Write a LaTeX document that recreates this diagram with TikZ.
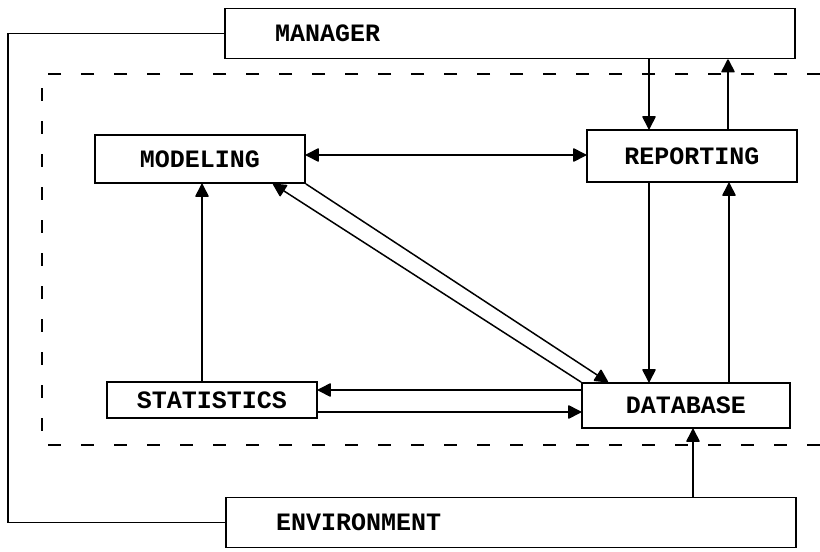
\documentclass[tikz,border=0pt]{standalone}
\usepackage{fontspec}
\newfontfamily\boxfont{Liberation Mono}
\usetikzlibrary{arrows.meta}
\tikzset{
  unit/.style={draw, line width=1.8pt, inner sep=0pt,
    font=\boxfont\bfseries\fontsize{25}{25}\selectfont},
  wide/.style={unit, inner xsep=50pt, text width=470pt, align=left, minimum height=50pt},
  tip/.tip={Triangle[length=14pt,width=14pt,round]},
  flow/.style={line width=1.5pt, -tip},
  both/.style={line width=1.5pt, tip-tip},
  link/.style={line width=1.5pt},
  boundary/.style={line width=1.5pt, dash pattern=on 13pt off 20pt},
}
\begin{document}
\begin{tikzpicture}[x=1pt,y=-1pt]
\useasboundingbox (0,0) rectangle (820,552);

% system boundary (open on the right)
\draw[boundary] (820,74) -- (42,74) -- (42,445) -- (820,445);

% blocks
\node[wide] (man) at (510,33.5) {MANAGER};
\node[wide] (env) at (511,522.5) {ENVIRONMENT};
\node[unit, minimum width=210pt, minimum height=48pt] (mod) at (200,159) {MODELING};
\node[unit, minimum width=210pt, minimum height=52pt] (rep) at (692,156) {REPORTING};
\node[unit, minimum width=210pt, minimum height=36pt] (sta) at (212,400) {STATISTICS};
\node[unit, minimum width=208pt, minimum height=45pt] (dat) at (686,405.5) {DATABASE};

% manager -- environment loop outside the boundary
\draw[link] (man.west) -- ++(-216,0) |- (env.west);

% vertical flows
\draw[flow] (man.south -| 649,0) -- (rep.north -| 649,0);
\draw[flow] (rep.north -| 728,0) -- (man.south -| 728,0);
\draw[flow] (rep.south -| 649,0) -- (dat.north -| 649,0);
\draw[flow] (dat.north -| 729,0) -- (rep.south -| 729,0);
\draw[flow] (env.north -| 693,0) -- (dat.south -| 693,0);
\draw[flow] (sta.north -| 202,0) -- (mod.south -| 202,0);

% horizontal flows
\draw[both] (mod.east |- 0,155) -- (rep.west |- 0,155);
\draw[flow] (dat.west |- 0,390) -- (sta.east |- 0,390);
\draw[flow] (sta.east |- 0,412) -- (dat.west |- 0,412);

% diagonal flows between modeling and database
\draw[flow] (mod.south east) -- (dat.north -| 608,0);
\draw[flow] (dat.north west) -- (mod.south -| 273,0);
\end{tikzpicture}
\end{document}
